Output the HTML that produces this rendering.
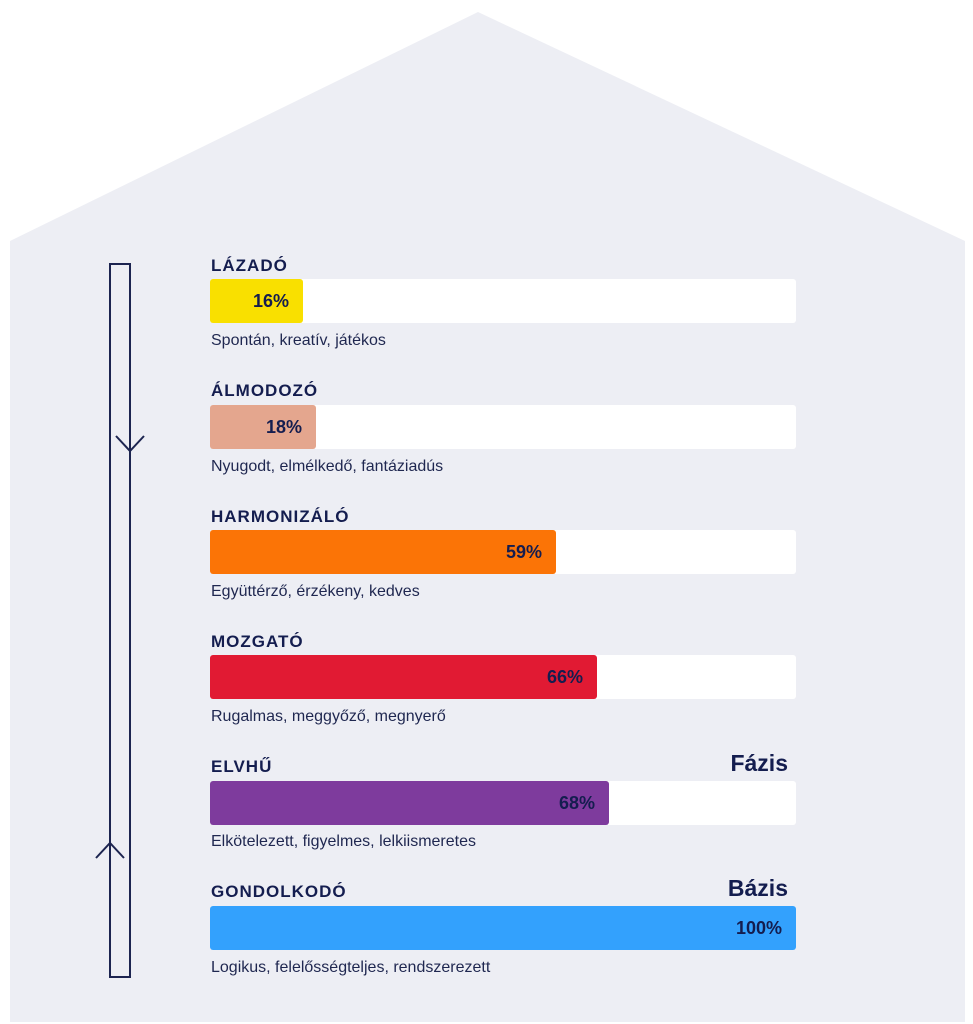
<!DOCTYPE html><html><head><style>
body{margin:0;width:973px;height:1024px;background:#fff;position:relative;overflow:hidden;font-family:"Liberation Sans",sans-serif;color:#141d4f}
.t{position:absolute;left:211px;font-weight:bold;font-size:17px;letter-spacing:1px}
.bg{position:absolute;left:210px;width:586px;height:44px;background:#fff;border-radius:3px}
.b{position:absolute;left:0;top:0;height:44px;border-radius:3px;font-weight:bold;font-size:18px;line-height:44px;text-align:right;box-sizing:border-box;padding-right:14px}
.d{position:absolute;left:211px;font-size:16px;color:#1f2750}
.r{position:absolute;right:185px;font-weight:bold;font-size:23px}
</style></head><body>
<svg width="973" height="1024" style="position:absolute;left:0;top:0">
<polygon points="10,241 478,12 965,241 965,1022 10,1022" fill="#edeef4"/>
<rect x="110" y="264" width="20" height="713" fill="none" stroke="#1c2450" stroke-width="2"/>
<polyline points="116,436 130,451 144,436" fill="none" stroke="#1c2450" stroke-width="2"/>
<polyline points="96,858 110,843 124,858" fill="none" stroke="#1c2450" stroke-width="2"/>
</svg>
<div class="t" style="top:256px">LÁZADÓ</div>
<div class="bg" style="top:279px"><div class="b" style="width:93px;background:#f9e000">16%</div></div>
<div class="d" style="top:332px">Spontán, kreatív, játékos</div>
<div class="t" style="top:381px">ÁLMODOZÓ</div>
<div class="bg" style="top:405px"><div class="b" style="width:106px;background:#e4a68e">18%</div></div>
<div class="d" style="top:458px">Nyugodt, elmélkedő, fantáziadús</div>
<div class="t" style="top:507px">HARMONIZÁLÓ</div>
<div class="bg" style="top:530px"><div class="b" style="width:346px;background:#fb7406">59%</div></div>
<div class="d" style="top:583px">Együttérző, érzékeny, kedves</div>
<div class="t" style="top:632px">MOZGATÓ</div>
<div class="bg" style="top:655px"><div class="b" style="width:387px;background:#e11a33">66%</div></div>
<div class="d" style="top:708px">Rugalmas, meggyőző, megnyerő</div>
<div class="t" style="top:757px">ELVHŰ</div>
<div class="r" style="top:750px">Fázis</div>
<div class="bg" style="top:781px"><div class="b" style="width:399px;background:#7e3b9d">68%</div></div>
<div class="d" style="top:833px">Elkötelezett, figyelmes, lelkiismeretes</div>
<div class="t" style="top:882px">GONDOLKODÓ</div>
<div class="r" style="top:875px">Bázis</div>
<div class="bg" style="top:906px"><div class="b" style="width:586px;background:#33a1fd">100%</div></div>
<div class="d" style="top:959px">Logikus, felelősségteljes, rendszerezett</div>
</body></html>
